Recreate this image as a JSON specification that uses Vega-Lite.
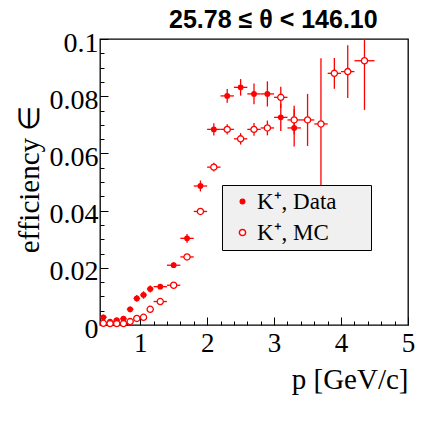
{
  "$schema": "https://vega.github.io/schema/vega-lite/v6.json",
  "width": 308,
  "height": 286,
  "autosize": "none",
  "padding": {"left": 100, "top": 39, "right": 27, "bottom": 97},
  "background": "white",
  "title": {"text": "25.78 ≤ θ < 146.10", "font": "Liberation Sans", "fontSize": 25, "fontWeight": "bold", "color": "black", "anchor": "start", "dx": 154, "offset": -24, "baseline": "alphabetic"},
  "config": {"view": {"stroke": "black", "strokeWidth": 1.3}, "font": "Liberation Serif"},
  "data": {"values": [
    {"series": "K⁺, Data", "p": 0.45, "plo": 0.4, "phi": 0.5, "eff": 0.0027, "elo": 0.0018, "ehi": 0.0036},
    {"series": "K⁺, Data", "p": 0.55, "plo": 0.5, "phi": 0.6, "eff": 0.0012, "elo": 0.0005, "ehi": 0.0019},
    {"series": "K⁺, Data", "p": 0.65, "plo": 0.6, "phi": 0.7, "eff": 0.0017, "elo": 0.0010, "ehi": 0.0024},
    {"series": "K⁺, Data", "p": 0.75, "plo": 0.7, "phi": 0.8, "eff": 0.0022, "elo": 0.0014, "ehi": 0.0030},
    {"series": "K⁺, Data", "p": 0.85, "plo": 0.8, "phi": 0.9, "eff": 0.0055, "elo": 0.0045, "ehi": 0.0065},
    {"series": "K⁺, Data", "p": 0.95, "plo": 0.9, "phi": 1.0, "eff": 0.0093, "elo": 0.0081, "ehi": 0.0105},
    {"series": "K⁺, Data", "p": 1.05, "plo": 1.0, "phi": 1.1, "eff": 0.0105, "elo": 0.0092, "ehi": 0.0118},
    {"series": "K⁺, Data", "p": 1.15, "plo": 1.1, "phi": 1.2, "eff": 0.0126, "elo": 0.0114, "ehi": 0.0138},
    {"series": "K⁺, Data", "p": 1.3, "plo": 1.2, "phi": 1.4, "eff": 0.0134, "elo": 0.0126, "ehi": 0.0142},
    {"series": "K⁺, Data", "p": 1.5, "plo": 1.4, "phi": 1.6, "eff": 0.0209, "elo": 0.0199, "ehi": 0.0219},
    {"series": "K⁺, Data", "p": 1.7, "plo": 1.6, "phi": 1.8, "eff": 0.0303, "elo": 0.0288, "ehi": 0.0318},
    {"series": "K⁺, Data", "p": 1.9, "plo": 1.8, "phi": 2.0, "eff": 0.0486, "elo": 0.0467, "ehi": 0.0505},
    {"series": "K⁺, Data", "p": 2.1, "plo": 2.0, "phi": 2.2, "eff": 0.0684, "elo": 0.0663, "ehi": 0.0705},
    {"series": "K⁺, Data", "p": 2.3, "plo": 2.2, "phi": 2.4, "eff": 0.0801, "elo": 0.0777, "ehi": 0.0825},
    {"series": "K⁺, Data", "p": 2.5, "plo": 2.4, "phi": 2.6, "eff": 0.0831, "elo": 0.0802, "ehi": 0.0860},
    {"series": "K⁺, Data", "p": 2.7, "plo": 2.6, "phi": 2.8, "eff": 0.0808, "elo": 0.0772, "ehi": 0.0844},
    {"series": "K⁺, Data", "p": 2.9, "plo": 2.8, "phi": 3.0, "eff": 0.0808, "elo": 0.0764, "ehi": 0.0852},
    {"series": "K⁺, Data", "p": 3.1, "plo": 3.0, "phi": 3.2, "eff": 0.0726, "elo": 0.0678, "ehi": 0.0774},
    {"series": "K⁺, Data", "p": 3.3, "plo": 3.2, "phi": 3.4, "eff": 0.0689, "elo": 0.0624, "ehi": 0.0754},
    {"series": "K⁺, MC", "p": 0.45, "plo": 0.4, "phi": 0.5, "eff": 0.0006, "elo": 0.0003, "ehi": 0.0009},
    {"series": "K⁺, MC", "p": 0.55, "plo": 0.5, "phi": 0.6, "eff": 0.0005, "elo": 0.0002, "ehi": 0.0008},
    {"series": "K⁺, MC", "p": 0.65, "plo": 0.6, "phi": 0.7, "eff": 0.0005, "elo": 0.0002, "ehi": 0.0008},
    {"series": "K⁺, MC", "p": 0.75, "plo": 0.7, "phi": 0.8, "eff": 0.0005, "elo": 0.0002, "ehi": 0.0008},
    {"series": "K⁺, MC", "p": 0.85, "plo": 0.8, "phi": 0.9, "eff": 0.0012, "elo": 0.0008, "ehi": 0.0016},
    {"series": "K⁺, MC", "p": 0.95, "plo": 0.9, "phi": 1.0, "eff": 0.0023, "elo": 0.0018, "ehi": 0.0028},
    {"series": "K⁺, MC", "p": 1.05, "plo": 1.0, "phi": 1.1, "eff": 0.0027, "elo": 0.0022, "ehi": 0.0032},
    {"series": "K⁺, MC", "p": 1.15, "plo": 1.1, "phi": 1.2, "eff": 0.0055, "elo": 0.0049, "ehi": 0.0061},
    {"series": "K⁺, MC", "p": 1.3, "plo": 1.2, "phi": 1.4, "eff": 0.0082, "elo": 0.0076, "ehi": 0.0088},
    {"series": "K⁺, MC", "p": 1.5, "plo": 1.4, "phi": 1.6, "eff": 0.0139, "elo": 0.0131, "ehi": 0.0147},
    {"series": "K⁺, MC", "p": 1.7, "plo": 1.6, "phi": 1.8, "eff": 0.0238, "elo": 0.0228, "ehi": 0.0248},
    {"series": "K⁺, MC", "p": 1.9, "plo": 1.8, "phi": 2.0, "eff": 0.0397, "elo": 0.0385, "ehi": 0.0409},
    {"series": "K⁺, MC", "p": 2.1, "plo": 2.0, "phi": 2.2, "eff": 0.0552, "elo": 0.0537, "ehi": 0.0567},
    {"series": "K⁺, MC", "p": 2.3, "plo": 2.2, "phi": 2.4, "eff": 0.0684, "elo": 0.0666, "ehi": 0.0702},
    {"series": "K⁺, MC", "p": 2.5, "plo": 2.4, "phi": 2.6, "eff": 0.0651, "elo": 0.0631, "ehi": 0.0671},
    {"series": "K⁺, MC", "p": 2.7, "plo": 2.6, "phi": 2.8, "eff": 0.0684, "elo": 0.0662, "ehi": 0.0706},
    {"series": "K⁺, MC", "p": 2.9, "plo": 2.8, "phi": 3.0, "eff": 0.0689, "elo": 0.0663, "ehi": 0.0715},
    {"series": "K⁺, MC", "p": 3.1, "plo": 3.0, "phi": 3.2, "eff": 0.0796, "elo": 0.0759, "ehi": 0.0833},
    {"series": "K⁺, MC", "p": 3.3, "plo": 3.2, "phi": 3.4, "eff": 0.0717, "elo": 0.0667, "ehi": 0.0767},
    {"series": "K⁺, MC", "p": 3.5, "plo": 3.4, "phi": 3.6, "eff": 0.0717, "elo": 0.0626, "ehi": 0.0808},
    {"series": "K⁺, MC", "p": 3.7, "plo": 3.6, "phi": 3.8, "eff": 0.0703, "elo": 0.0473, "ehi": 0.0933},
    {"series": "K⁺, MC", "p": 3.9, "plo": 3.8, "phi": 4.0, "eff": 0.0880, "elo": 0.0826, "ehi": 0.0934},
    {"series": "K⁺, MC", "p": 4.1, "plo": 4.0, "phi": 4.2, "eff": 0.0886, "elo": 0.0794, "ehi": 0.0978},
    {"series": "K⁺, MC", "p": 4.35, "plo": 4.2, "phi": 4.5, "eff": 0.0924, "elo": 0.0752, "ehi": 0.1096}
  ]},
  "layer": [
    {
      "mark": {"type": "rule", "color": "#ff0000", "strokeWidth": 1.3, "clip": true},
      "encoding": {
        "x": {"field": "plo", "type": "quantitative",
          "scale": {"domain": [0.4, 5], "nice": false, "zero": false, "clamp": true},
          "axis": {"orient": "bottom", "values": [1, 2, 3, 4, 5], "domain": false, "grid": false,
            "tickSize": -8, "tickColor": "black", "tickWidth": 1,
            "labelFont": "Liberation Serif", "labelFontSize": 27, "labelColor": "black", "labelPadding": 13,
            "labelFlush": false, "labelOverlap": false,
            "title": "p [GeV/c]", "titleFont": "Liberation Serif", "titleFontSize": 29, "titleFontWeight": "normal",
            "titleColor": "black", "titleAlign": "right", "titleAnchor": "end", "titleX": 308, "titleY": 63, "titleBaseline": "alphabetic"}},
        "x2": {"field": "phi"},
        "y": {"field": "eff", "type": "quantitative",
          "scale": {"domain": [0, 0.1], "nice": false, "zero": true, "clamp": true},
          "axis": {"orient": "left", "values": [0, 0.02, 0.04, 0.06, 0.08, 0.1], "format": "~g", "domain": false, "grid": false,
            "tickSize": -8, "tickColor": "black", "tickWidth": 1,
            "labelFont": "Liberation Serif", "labelFontSize": 28, "labelColor": "black", "labelPadding": 10,
            "labelOffset": 4, "labelBaseline": "middle", "labelFlush": false, "labelOverlap": false,
            "title": "efficiency ∈", "titleFont": "Liberation Serif", "titleFontSize": 29, "titleFontWeight": "normal",
            "titleColor": "black", "titleAngle": -90, "titleAlign": "center", "titleBaseline": "alphabetic", "titleX": -62, "titleY": 140}}
      }
    },
    {
      "mark": {"type": "rule", "color": "#ff0000", "strokeWidth": 1.3, "clip": true},
      "encoding": {
        "x": {"field": "p", "type": "quantitative",
          "axis": {"orient": "bottom", "values": [0.6, 0.8, 1.2, 1.4, 1.6, 1.8, 2.2, 2.4, 2.6, 2.8, 3.2, 3.4, 3.6, 3.8, 4.2, 4.4, 4.6, 4.8],
            "labels": false, "domain": false, "grid": false, "tickSize": -4, "tickColor": "black", "tickWidth": 1, "title": null}},
        "y": {"field": "elo", "type": "quantitative",
          "axis": {"orient": "left", "values": [0.005, 0.01, 0.015, 0.025, 0.03, 0.035, 0.045, 0.05, 0.055, 0.065, 0.07, 0.075, 0.085, 0.09, 0.095],
            "labels": false, "domain": false, "grid": false, "tickSize": -4, "tickColor": "black", "tickWidth": 1, "title": null}},
        "y2": {"field": "ehi"}
      }
    },
    {
      "mark": {"type": "circle", "stroke": "#ff0000", "strokeWidth": 1.3, "opacity": 1, "fillOpacity": 1},
      "encoding": {
        "x": {"field": "p", "type": "quantitative", "axis": null},
        "y": {"field": "eff", "type": "quantitative", "axis": null},
        "fill": {"field": "series", "type": "nominal",
          "scale": {"domain": ["K⁺, Data", "K⁺, MC"], "range": ["#ff0000", "#ffffff"]},
          "legend": {"title": null, "orient": "none", "legendX": 122, "legendY": 146, "fillColor": "#f0f0f0", "strokeColor": "black",
            "padding": 5, "symbolOffset": 4, "labelFont": "Liberation Serif", "labelFontSize": 23, "labelColor": "black", "labelOffset": 3,
            "rowPadding": 7, "symbolType": "circle", "labelExpr": "datum.label + '\u2003\u2005\u200b'",
            "encode": {"symbols": {"update": {"stroke": {"value": "#ff0000"}, "strokeWidth": {"value": 1.3}, "opacity": {"value": 1}}}}}},
        "size": {"field": "series", "type": "nominal",
          "scale": {"domain": ["K⁺, Data", "K⁺, MC"], "range": [20, 38]},
          "legend": {"title": null, "orient": "none", "legendX": 122, "legendY": 146, "fillColor": "#f0f0f0", "strokeColor": "black",
            "padding": 5, "symbolOffset": 4, "labelFont": "Liberation Serif", "labelFontSize": 23, "labelColor": "black", "labelOffset": 3,
            "rowPadding": 7, "symbolType": "circle", "labelExpr": "datum.label + '\u2003\u2005\u200b'",
            "encode": {"symbols": {"update": {"stroke": {"value": "#ff0000"}, "strokeWidth": {"value": 1.3}, "opacity": {"value": 1}}}}}}
      }
    }
  ],
  "resolve": {"axis": {"x": "independent", "y": "independent"}}
}
